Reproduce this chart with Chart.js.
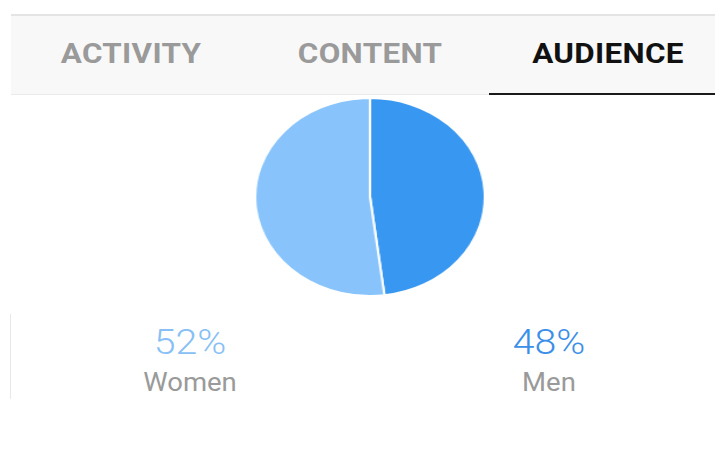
<!DOCTYPE html>
<html>
<head>
<meta charset="utf-8">
<script src="https://cdn.jsdelivr.net/npm/chart.js@4/dist/chart.umd.min.js"></script>
<style>
  html, body { margin: 0; padding: 0; background: #fff; }
  body { width: 715px; height: 449px; position: relative; overflow: hidden; font-family: Roboto, "Noto Sans", sans-serif; }
  #topline { position: absolute; left: 11px; right: 0; top: 14px; height: 2px; background: #e4e4e4; }
  #header { position: absolute; left: 11px; right: 0; top: 16px; height: 78px; background: #f8f8f8; border-bottom: 1px solid #ebebeb; }
  .tab { position: absolute; top: 53px; font-weight: bold; font-size: 28px; color: #9a9a9a;
         transform: translate(-50%, -50%) scaleX(1.12); white-space: nowrap; letter-spacing: 0.3px; }
  #underline { position: absolute; left: 489px; right: 0; top: 93px; height: 2px; background: #1a1a1a; }
  #pieWrap { position: absolute; left: 254px; top: 97px; width: 232px; height: 200px; }
  #pieBox { width: 200px; height: 200px; transform: scaleX(1.16); transform-origin: 0 0; }
  #sideline { position: absolute; left: 10px; top: 314px; width: 1px; height: 85px; background: #e8e8e8; }
  .pct { position: absolute; top: 342px; font-size: 35px; font-weight: 300;
         transform: translate(-50%, -50%) scaleX(1.12); white-space: nowrap; }
  .lbl { position: absolute; top: 382px; font-size: 25px; color: #9a9a9a;
         transform: translate(-50%, -50%) scaleX(1.1); white-space: nowrap; }
</style>
</head>
<body>
<div id="topline"></div>
<div id="header"></div>
<div id="underline"></div>
<div id="pieWrap"><div id="pieBox"><canvas id="myChart"></canvas></div></div>
<div id="sideline"></div>
<script>
// tabs along the top
const tabs = ['ACTIVITY', 'CONTENT', 'AUDIENCE'];
const tabX = [131, 370, 608];
const activeTab = 2;

// audience split, drawn clockwise from the top
const genders = ['Men', 'Women'];
const shares = [48, 52];
const colors = ['#3897f0', '#88c4fb'];
const textColors = ['#3b8fe8', '#88c0f5'];
const labelX = [549, 190];

tabs.forEach((t, i) => {
    const el = document.createElement('div');
    el.className = 'tab';
    el.textContent = t;
    el.style.left = tabX[i] + 'px';
    if (i === activeTab) el.style.color = '#111';
    document.body.appendChild(el);
});

genders.forEach((g, i) => {
    const p = document.createElement('div');
    p.className = 'pct';
    p.textContent = shares[i] + '%';
    p.style.left = labelX[i] + 'px';
    p.style.color = textColors[i];
    document.body.appendChild(p);

    const l = document.createElement('div');
    l.className = 'lbl';
    l.textContent = g;
    l.style.left = labelX[i] + 'px';
    document.body.appendChild(l);
});

let ctx = document.getElementById('myChart').getContext('2d');
let chart = new Chart(ctx, {
    type: 'pie',
    data: {
        labels: genders,
        datasets: [{
            data: shares,
            backgroundColor: colors,
            borderColor: '#ffffff',
            borderWidth: 2
        }]
    },
    options: {
        responsive: true,
        maintainAspectRatio: false,
        animation: false,
        layout: { padding: 0 },
        plugins: {
            legend: { display: false },
            tooltip: { enabled: false }
        }
    }
});
</script>
</body>
</html>
